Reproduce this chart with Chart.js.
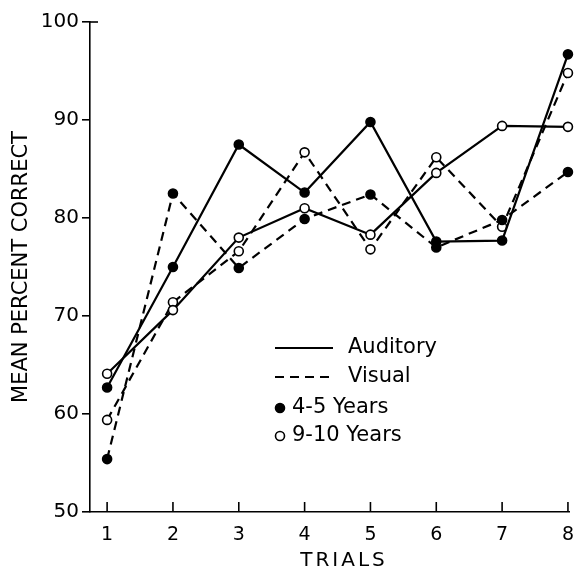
<!DOCTYPE html>
<html>
<head>
<meta charset="utf-8">
<script src="https://cdn.jsdelivr.net/npm/chart.js@4"></script>
<style>
  html, body { margin: 0; padding: 0; background: #fff; }
  #wrap { width: 578px; height: 573px; }
</style>
</head>
<body>
<div id="wrap"><canvas id="myChart"></canvas></div>
<script>
const trials = [1, 2, 3, 4, 5, 6, 7, 8];
const yTicks = [50, 60, 70, 80, 90, 100];

// solid lines = auditory, dashed = visual; filled dots = 4-5 yrs, open = 9-10 yrs
const auditoryYoung = [62.7, 75.0, 87.5, 82.6, 89.8, 77.6, 77.7, 96.7];
const auditoryOld = [64.1, 70.6, 78.0, 81.0, 78.3, 84.6, 89.4, 89.3];
const visualYoung = [55.4, 82.5, 74.9, 79.9, 82.4, 77.0, 79.8, 84.7];
const visualOld = [59.4, 71.4, 76.6, 86.7, 76.8, 86.2, 79.1, 94.8];

const legendItems = [
  { text: 'Auditory', kind: 'solid' },
  { text: 'Visual', kind: 'dashed' },
  { text: '4-5 Years', kind: 'filled' },
  { text: '9-10 Years', kind: 'open' },
];

const FONT = "'DejaVu Sans', sans-serif";
const DASH = [9, 6];

function toPoints(values) {
  return values.map((v, i) => ({ x: trials[i], y: v }));
}

function makeSet(label, values, dashed, filled) {
  return {
    label: label,
    data: toPoints(values),
    borderColor: '#000',
    borderWidth: 2.2,
    borderDash: dashed ? DASH : [],
    pointRadius: 4.5,
    pointBorderWidth: 1.6,
    pointBorderColor: '#000',
    pointBackgroundColor: filled ? '#000' : '#fff',
    tension: 0,
    clip: false,
  };
}

// legend + x axis title + inner x ticks
const extras = {
  id: 'extras',
  afterDraw(chart) {
    const ctx = chart.ctx;
    const xs = chart.scales.x;
    const ys = chart.scales.y;
    ctx.save();
    ctx.strokeStyle = '#000';
    ctx.fillStyle = '#000';
    ctx.lineWidth = 1.6;

    // ticks on the x axis point inward
    trials.forEach((t) => {
      const px = xs.getPixelForValue(t);
      ctx.beginPath();
      ctx.moveTo(px, ys.bottom);
      ctx.lineTo(px, ys.bottom - 10);
      ctx.stroke();
    });
    // little tick at top of y axis
    ctx.beginPath();
    ctx.moveTo(xs.left, ys.top);
    ctx.lineTo(xs.left + 8, ys.top);
    ctx.stroke();

    ctx.font = '21px ' + FONT;
    ctx.textBaseline = 'middle';
    ctx.textAlign = 'left';
    const lx = 275;
    const rows = [348, 377, 408, 436];
    legendItems.forEach((item, i) => {
      const y = rows[i];
      if (item.kind === 'solid' || item.kind === 'dashed') {
        ctx.setLineDash(item.kind === 'dashed' ? DASH : []);
        ctx.lineWidth = 2.2;
        ctx.beginPath();
        ctx.moveTo(lx, y);
        ctx.lineTo(lx + 58, y);
        ctx.stroke();
        ctx.setLineDash([]);
        ctx.fillText(item.text, lx + 73, y);
      } else {
        ctx.lineWidth = 1.6;
        ctx.beginPath();
        ctx.arc(lx + 5, y, 4.5, 0, Math.PI * 2);
        ctx.fillStyle = item.kind === 'filled' ? '#000' : '#fff';
        ctx.fill();
        ctx.stroke();
        ctx.fillStyle = '#000';
        ctx.fillText(item.text, lx + 17, y);
      }
    });

    ctx.font = '20px ' + FONT;
    ctx.textAlign = 'center';
    ctx.letterSpacing = '3px';
    ctx.fillText('TRIALS', 344, 561);
    ctx.restore();
  },
};

const chartConfig = {
  type: 'line',
  data: {
    datasets: [
      makeSet('Auditory 4-5 Years', auditoryYoung, false, true),
      makeSet('Auditory 9-10 Years', auditoryOld, false, false),
      makeSet('Visual 4-5 Years', visualYoung, true, true),
      makeSet('Visual 9-10 Years', visualOld, true, false),
    ],
  },
  options: {
    responsive: true,
    maintainAspectRatio: false,
    animation: false,
    layout: {
      padding: { top: 22, right: 6, left: 0, bottom: 0 },
    },
    plugins: {
      legend: { display: false },
      tooltip: { enabled: false },
    },
    scales: {
      x: {
        type: 'linear',
        min: 0.74,
        max: 8.02,
        afterFit: (scale) => {
          scale.height = 61;
        },
        afterBuildTicks: (scale) => {
          scale.ticks = trials.map((t) => ({ value: t }));
        },
        grid: { display: false },
        border: { display: true, color: '#000', width: 1.6 },
        ticks: {
          color: '#000',
          padding: 4,
          maxRotation: 0,
          font: { family: FONT, size: 19 },
        },
      },
      y: {
        type: 'linear',
        min: 50,
        max: 100,
        afterFit: (scale) => {
          scale.width = 90;
        },
        afterBuildTicks: (scale) => {
          scale.ticks = yTicks.map((t) => ({ value: t }));
        },
        grid: {
          drawOnChartArea: false,
          drawTicks: true,
          tickLength: 8,
          color: '#000',
          lineWidth: 1.6,
        },
        border: { display: true, color: '#000', width: 1.6 },
        title: {
          display: true,
          text: 'MEAN PERCENT CORRECT',
          color: '#000',
          padding: { top: 9, bottom: 0 },
          font: { family: FONT, size: 21 },
        },
        ticks: {
          color: '#000',
          padding: 3,
          font: { family: FONT, size: 20 },
        },
      },
    },
  },
  plugins: [extras],
};

const ctx = document.getElementById('myChart');
const myChart = new Chart(ctx, chartConfig);
</script>
</body>
</html>
